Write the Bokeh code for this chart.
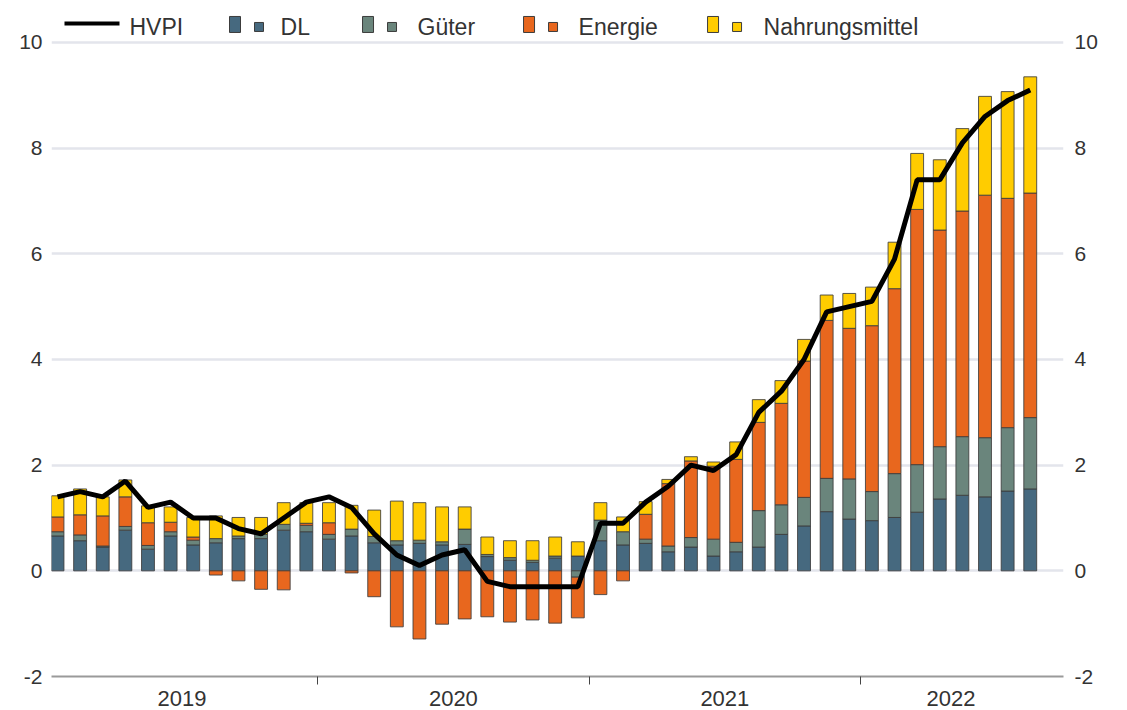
import numpy as np
from bokeh.plotting import figure
from bokeh.models import Range1d, LinearAxis, FixedTicker
from bokeh.core.properties import value
from bokeh.embed import file_html
from bokeh.resources import INLINE

# ---------------- data (percentage points / % yoy) ----------------
years = ["2019", "2020", "2021", "2022"]
months_per_year = [12, 12, 12, 8]

dl = [0.66, 0.57, 0.45, 0.77, 0.41, 0.66, 0.49, 0.53, 0.61, 0.61, 0.77, 0.74,
      0.60, 0.66, 0.53, 0.49, 0.52, 0.49, 0.50, 0.27, 0.20, 0.16, 0.24, 0.28,
      0.57, 0.49, 0.52, 0.36, 0.45, 0.28, 0.36, 0.45, 0.69, 0.85, 1.12, 0.98,
      0.95, 1.01, 1.11, 1.36, 1.43, 1.40, 1.51, 1.55]
gueter = [0.08, 0.11, 0.02, 0.07, 0.07, 0.08, 0.09, 0.08, 0.05, 0.08, 0.11, 0.12,
          0.09, 0.13, 0.12, 0.08, 0.06, 0.06, 0.29, 0.04, 0.05, 0.04, 0.04, -0.12,
          0.39, 0.25, 0.08, 0.11, 0.18, 0.32, 0.18, 0.69, 0.56, 0.54, 0.63, 0.76,
          0.55, 0.83, 0.90, 0.99, 1.11, 1.12, 1.20, 1.35]
energie = [0.28, 0.38, 0.57, 0.56, 0.43, 0.18, 0.06, -0.08, -0.19, -0.35, -0.36, 0.04,
           0.22, -0.04, -0.49, -1.06, -1.29, -1.01, -0.91, -0.87, -0.97, -0.93, -0.99, -0.77,
           -0.45, -0.19, 0.47, 1.18, 1.45, 1.38, 1.57, 1.67, 1.92, 2.58, 2.99, 2.85,
           3.14, 3.50, 4.83, 4.10, 4.27, 4.59, 4.34, 4.25]
nahrung = [0.40, 0.49, 0.36, 0.32, 0.32, 0.29, 0.37, 0.43, 0.35, 0.32, 0.41, 0.39,
           0.38, 0.45, 0.50, 0.75, 0.71, 0.66, 0.42, 0.33, 0.32, 0.37, 0.36, 0.27,
           0.33, 0.28, 0.24, 0.08, 0.08, 0.08, 0.33, 0.43, 0.43, 0.41, 0.48, 0.66,
           0.73, 0.88, 1.06, 1.33, 1.56, 1.87, 2.02, 2.20]
hvpi = [1.4, 1.5, 1.4, 1.7, 1.2, 1.3, 1.0, 1.0, 0.8, 0.7, 1.0, 1.3,
        1.4, 1.2, 0.7, 0.3, 0.1, 0.3, 0.4, -0.2, -0.3, -0.3, -0.3, -0.3,
        0.9, 0.9, 1.3, 1.6, 2.0, 1.9, 2.2, 3.0, 3.4, 4.0, 4.9, 5.0,
        5.1, 5.9, 7.4, 7.4, 8.1, 8.6, 8.9, 9.1]

series_names = ["DL", "Güter", "Energie", "Nahrungsmittel"]
series_values = [dl, gueter, energie, nahrung]
series_colors = ["#46697F", "#6A857C", "#E8671E", "#FFCC00"]
y_ticks = [-2, 0, 2, 4, 6, 8, 10]
y_tick_labels = {t: str(t) for t in y_ticks}   # plain hyphen for "-2"

# ---------------- styling ----------------
FONT = "Liberation Sans"
TXT = "#333333"
OUTLINE = "#3c3c3c"

n = len(hvpi)
idx = np.arange(n)

starts = np.cumsum([0] + months_per_year[:-1])
year_centers = [float(s + (m - 1) / 2) for s, m in zip(starts, months_per_year)]
boundaries = [float(s) - 0.5 for s in starts[1:]]

p = figure(width=1119, height=710,
           x_range=Range1d(-0.265, 44.47), y_range=Range1d(-2, 10.643),
           output_backend="svg", toolbar_location=None,
           min_border_left=51, min_border_right=56, min_border_top=8,
           min_border_bottom=34)
p.outline_line_color = None
p.background_fill_color = "white"
p.border_fill_color = "white"

# stacked bars (positive parts upwards, negative parts downwards)
pos = np.zeros(n)
neg = np.zeros(n)
for vals, col in zip(series_values, series_colors):
    v = np.array(vals, dtype=float)
    bottom = np.where(v >= 0, pos, neg + v)
    top = np.where(v >= 0, pos + v, neg)
    pos = np.where(v >= 0, pos + v, pos)
    neg = np.where(v < 0, neg + v, neg)
    p.vbar(x=idx, width=0.57, bottom=bottom, top=top, fill_color=col,
           line_color=OUTLINE, line_width=1, line_alpha=0.85)

p.line(idx, hvpi, line_color="black", line_width=5)

# ---------------- axes ----------------
ytk = FixedTicker(ticks=y_ticks)
p.yaxis.ticker = ytk
p.ygrid.ticker = ytk
p.ygrid.grid_line_color = "#E3E5EC"
p.ygrid.grid_line_width = 2.5
p.xgrid.grid_line_color = None

right = LinearAxis(ticker=ytk)
p.add_layout(right, "right")
for ax in (p.yaxis[0], right):
    ax.axis_line_color = None
    ax.major_tick_line_color = None
    ax.minor_tick_line_color = None
    ax.major_tick_out = 0
    ax.major_tick_in = 0
    ax.major_label_overrides = y_tick_labels
    ax.major_label_text_font = FONT
    ax.major_label_text_font_size = "21px"
    ax.major_label_text_color = TXT
p.yaxis[0].major_label_standoff = 9
right.major_label_standoff = 11

xa = p.xaxis[0]
xa.ticker = FixedTicker(ticks=year_centers, minor_ticks=boundaries)
xa.major_label_overrides = {c: y for c, y in zip(year_centers, years)}
xa.axis_line_color = "#9a9a9a"
xa.axis_line_width = 2
xa.major_tick_line_color = None
xa.major_tick_out = 0
xa.major_tick_in = 0
xa.minor_tick_line_color = "#444444"
xa.minor_tick_line_width = 1
xa.minor_tick_out = 8
xa.minor_tick_in = 0
xa.major_label_standoff = 6
xa.major_label_text_font = FONT
xa.major_label_text_font_size = "22px"
xa.major_label_text_color = TXT

# ---------------- legend (drawn manually, two swatches per bar item) ----------------
X0, PXM = 57.0, 22.62   # page x of first month, px per month
Y0, PYU = 42.0, 52.83   # page y of value 10, px per unit


def dx(px):
    return (px - X0) / PXM


def dy(py):
    return 10 + (Y0 - py) / PYU


p.line([dx(64), dx(119)], [dy(23), dy(23)], line_color="black", line_width=4)
p.text(x=[dx(129)], y=[dy(27)], text=["HVPI"], text_baseline="middle",
       text_font=value(FONT), text_font_size="23px", text_color=TXT)

leg_x = [229, 362, 523, 707]
leg_txt_x = [280, 417, 578, 763]
for name, col, lx, tx in zip(series_names, series_colors, leg_x, leg_txt_x):
    p.quad(left=[dx(lx)], right=[dx(lx + 11)], top=[dy(16)], bottom=[dy(32)],
           fill_color=col, line_color=OUTLINE, line_width=1)
    p.quad(left=[dx(lx + 25)], right=[dx(lx + 34)], top=[dy(22)], bottom=[dy(31)],
           fill_color=col, line_color=OUTLINE, line_width=1)
    p.text(x=[dx(tx)], y=[dy(27)], text=[name], text_baseline="middle",
           text_font=value(FONT), text_font_size="23px", text_color=TXT)

open("out.html", "w").write(file_html(p, INLINE))
